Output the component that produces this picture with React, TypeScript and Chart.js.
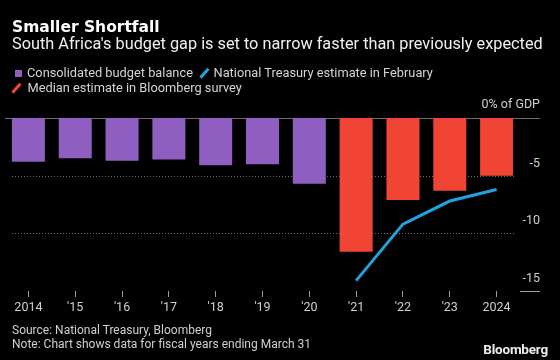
import React, { useEffect, useRef } from "react";
import { Chart, registerables } from "chart.js";

Chart.register(...registerables);

const years = ["2014", "'15", "'16", "'17", "'18", "'19", "'20", "'21", "'22", "'23", "2024"];
const consolidated = [-3.8, -3.5, -3.7, -3.6, -4.1, -4.0, -5.7, null, null, null, null];
const bloombergSurvey = [null, null, null, null, null, null, null, -11.6, -7.1, -6.3, -5.0];
const treasuryFeb = [null, null, null, null, null, null, null, -14.1, -9.2, -7.2, -6.2];
const yTickValues = [0, -5, -10, -15];
const yTickLabels = ["0% of GDP", "-5", "-10", "-15"];

const seriesNames = [
  "Consolidated budget balance",
  "National Treasury estimate in February",
  "Median estimate in Bloomberg survey",
];

const PURPLE = "#8e5fc0";
const RED = "#f04434";
const BLUE = "#1fa3dd";
const FONT = "Roboto, 'Liberation Sans', sans-serif";

const yAxisPlugin = {
  id: "yAxisCustom",
  beforeDatasetsDraw(chart: any) {
    const { ctx, chartArea, scales } = chart;
    const y = scales.y;
    ctx.save();
    y.ticks.forEach((t: any) => {
      const py = Math.round(y.getPixelForValue(t.value)) + 0.5;
      ctx.beginPath();
      if (t.value === 0) {
        ctx.strokeStyle = "#6e6e6e";
        ctx.lineWidth = 1;
        ctx.setLineDash([]);
        ctx.moveTo(chartArea.left, py);
        ctx.lineTo(chartArea.right + 20, py);
      } else if (t.value === y.min) {
        ctx.strokeStyle = "#a0a0a0";
        ctx.lineWidth = 1;
        ctx.setLineDash([]);
        ctx.moveTo(chartArea.right, py);
        ctx.lineTo(chartArea.right + 20, py);
      } else {
        ctx.strokeStyle = "#6a6a6a";
        ctx.lineWidth = 1;
        ctx.setLineDash([1, 2]);
        ctx.moveTo(chartArea.left + 7, py);
        ctx.lineTo(chartArea.right - 6, py);
      }
      ctx.stroke();
    });
    ctx.restore();
  },
  afterDraw(chart: any) {
    const { ctx, chartArea, scales } = chart;
    const y = scales.y;
    ctx.save();
    ctx.font = `12.5px ${FONT}`;
    ctx.fillStyle = "#cfcfcf";
    ctx.textAlign = "right";
    ctx.textBaseline = "middle";
    y.ticks.forEach((t: any) => {
      const idx = yTickValues.indexOf(t.value);
      const label = idx >= 0 ? yTickLabels[idx] : String(t.value);
      const py = y.getPixelForValue(t.value) - (t.value === 0 ? 13 : 12);
      ctx.fillText(label, chartArea.right + 20, py);
    });
    ctx.restore();
  },
};

function Box({ color }: { color: string }) {
  return <span style={{ display: "inline-block", width: 7, height: 7, background: color }} />;
}

function Slash({ color }: { color: string }) {
  return (
    <span
      style={{
        display: "inline-block",
        width: 2.5,
        height: 12,
        background: color,
        transform: "rotate(42deg)",
      }}
    />
  );
}

const legendRow: React.CSSProperties = {
  position: "absolute",
  display: "flex",
  alignItems: "center",
  height: 16,
  fontSize: 12.8,
  lineHeight: "16px",
  whiteSpace: "nowrap",
  color: "#d4d4d4",
};

export default function App() {
  const canvasRef = useRef<HTMLCanvasElement | null>(null);

  useEffect(() => {
    document.body.style.margin = "0";
    document.body.style.background = "#000";
    const canvas = canvasRef.current;
    if (!canvas) return;
    const chart = new Chart(canvas, {
      type: "bar",
      data: {
        labels: years,
        datasets: [
          {
            type: "line",
            label: seriesNames[1],
            data: treasuryFeb,
            borderColor: BLUE,
            backgroundColor: BLUE,
            borderWidth: 3,
            pointRadius: 0,
            tension: 0,
            spanGaps: false,
            order: 0,
          } as any,
          {
            label: seriesNames[0],
            data: consolidated,
            backgroundColor: PURPLE,
            barPercentage: 0.705,
            categoryPercentage: 1,
            order: 1,
          },
          {
            label: seriesNames[2],
            data: bloombergSurvey,
            backgroundColor: RED,
            barPercentage: 0.705,
            categoryPercentage: 1,
            order: 1,
          },
        ],
      },
      options: {
        responsive: false,
        animation: false,
        devicePixelRatio: 1,
        layout: { padding: { left: 5, right: 0, top: 118, bottom: 44 } },
        plugins: {
          legend: { display: false },
          tooltip: { enabled: false },
          title: { display: false },
        },
        scales: {
          x: {
            stacked: true,
            offset: true,
            border: { display: false },
            grid: {
              offset: false,
              drawOnChartArea: false,
              drawTicks: true,
              tickLength: 6,
              tickColor: "#9a9a9a",
            },
            ticks: {
              color: "#cfcfcf",
              font: { family: FONT, size: 12.5 },
              padding: 3,
              maxRotation: 0,
              autoSkip: false,
            },
            afterFit: (s: any) => {
              s.height = 25;
            },
          },
          y: {
            position: "right",
            min: -15,
            max: 0,
            stacked: false,
            border: { display: false },
            grid: { display: false },
            ticks: { stepSize: 5, display: false },
            afterFit: (s: any) => {
              s.width = 40;
            },
          },
        },
      },
      plugins: [yAxisPlugin],
    });
    return () => chart.destroy();
  }, []);

  return (
    <div
      style={{
        position: "fixed",
        left: 0,
        top: 0,
        width: 560,
        height: 360,
        background: "#000",
        overflow: "hidden",
        fontFamily: FONT,
        color: "#d6d6d6",
      }}
    >
      <canvas ref={canvasRef} width={560} height={360} style={{ position: "absolute", left: 0, top: 0 }} />
      <div
        style={{
          position: "absolute",
          left: 12,
          top: 17,
          fontFamily: "'DejaVu Sans', Roboto, sans-serif",
          fontSize: 15.5,
          lineHeight: "20px",
          fontWeight: 700,
          color: "#fff",
          whiteSpace: "nowrap",
        }}
      >
        Smaller Shortfall
      </div>
      <div
        style={{
          position: "absolute",
          left: 12,
          top: 34,
          fontSize: 16.3,
          lineHeight: "20px",
          color: "#f0f0f0",
          whiteSpace: "nowrap",
        }}
      >
        South Africa's budget gap is set to narrow faster than previously expected
      </div>
      <div style={{ ...legendRow, left: 15, top: 65 }}>
        <Box color={PURPLE} />
        <span style={{ marginLeft: 5 }}>{seriesNames[0]}</span>
      </div>
      <div style={{ ...legendRow, left: 203, top: 65 }}>
        <Slash color={BLUE} />
        <span style={{ marginLeft: 8 }}>{seriesNames[1]}</span>
      </div>
      <div style={{ ...legendRow, left: 15, top: 80 }}>
        <Slash color={RED} />
        <span style={{ marginLeft: 10 }}>{seriesNames[2]}</span>
      </div>
      <div
        style={{
          position: "absolute",
          left: 12,
          top: 323,
          fontSize: 12,
          lineHeight: "14px",
          color: "#cfcfcf",
          whiteSpace: "nowrap",
        }}
      >
        <div>Source: National Treasury, Bloomberg</div>
        <div>Note: Chart shows data for fiscal years ending March 31</div>
      </div>
      <div
        style={{
          position: "absolute",
          right: 12,
          top: 341,
          fontSize: 13.5,
          lineHeight: "16px",
          fontWeight: 700,
          color: "#ececec",
          letterSpacing: -0.2,
        }}
      >
        Bloomberg
      </div>
    </div>
  );
}
